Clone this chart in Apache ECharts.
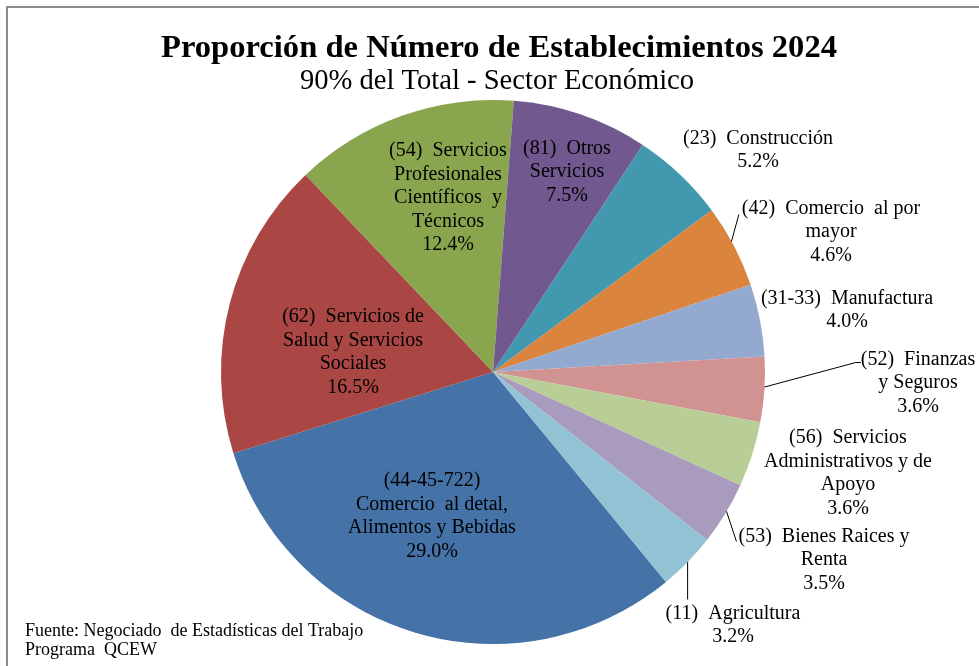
<!DOCTYPE html>
<html><head><meta charset="utf-8">
<script src="https://cdn.jsdelivr.net/npm/echarts@6/dist/echarts.min.js"></script>
<style>html,body{margin:0;padding:0;background:#fff}#c{width:979px;height:666px}</style>
</head><body><div id="c"></div>
<script>
// Data (Excel series order, starting with Comercio al detal)
const categories = [
  '(44-45-722)\nComercio  al detal,\nAlimentos y Bebidas',
  '(62)  Servicios de\nSalud y Servicios\nSociales',
  '(54)  Servicios\nProfesionales\nCientíficos  y\nTécnicos',
  '(81)  Otros\nServicios',
  '(23)  Construcción',
  '(42)  Comercio  al por\nmayor',
  '(31-33)  Manufactura',
  '(52)  Finanzas\ny Seguros',
  '(56)  Servicios\nAdministrativos y de\nApoyo',
  '(53)  Bienes Raices y\nRenta',
  '(11)  Agricultura'
];
const values = [29.0, 16.5, 12.4, 7.5, 5.2, 4.6, 4.0, 3.6, 3.6, 3.5, 3.2];
const titleText = 'Proporción de Número de Establecimientos 2024';
const subtitleText = '90% del Total - Sector Económico';
const sourceText = 'Fuente: Negociado  de Estadísticas del Trabajo\nPrograma  QCEW';

// Styles / layout (kept apart from data)
const colors = ['#4572A7','#AA4643','#89A54E','#71588F','#4198AF','#DB843D','#93A9CF','#D19392','#B9CD96','#A99BBD','#92C3D4'];
const leaderMode = [null,null,null,null,null,'slant',null,'elbow',null,'slant2','vertical'];
const labelPos = [[432,516],[353,352],[448,198],[567,172],[758,150],[831,232],[847,310],[918,383],[848,473],[824,560],[733,625]];
const LH = 23.5;

const chart = echarts.init(document.getElementById('c'), null, {renderer:'canvas'});
const serif = 'Liberation Serif, Times New Roman, serif';
chart.setOption({
  animation: false,
  backgroundColor: '#fff',
  title: [
    {text: titleText, left: 494, top: 27, textAlign: 'center',
     textStyle: {fontFamily: serif, fontSize: 32.6, fontWeight: 'bold', color: '#000'}},
    {text: subtitleText, left: 492, top: 62, textAlign: 'center',
     textStyle: {fontFamily: serif, fontSize: 28.6, fontWeight: 'normal', color: '#000'}}
  ],
  graphic: [
    {type: 'rect', shape: {x: 7, y: 7, width: 1000, height: 700}, style: {fill: 'none', stroke: '#8c8c8c', lineWidth: 2}, silent: true},
    {type: 'text', left: 25, top: 622, style: {text: sourceText, font: '18px ' + serif, fill: '#000', lineHeight: 19}}
  ],
  series: [{
    type: 'pie',
    center: [493, 372],
    radius: 272,
    startAngle: -50.5,
    clockwise: true,
    avoidLabelOverlap: false,
    color: colors,
    itemStyle: {borderWidth: 0},
    label: {
      show: true, position: 'outside',
      fontFamily: serif, fontSize: 20, color: '#000', lineHeight: LH, align: 'center',
      formatter: p => p.name + '\n' + p.value.toFixed(1) + '%'
    },
    labelLine: {show: true, length: 10, length2: 10, lineStyle: {color: '#000', width: 1}},
    labelLayout: p => {
      const i = p.dataIndex;
      const q = labelPos[i];
      const out = {x: q[0], y: q[1], align: 'center', verticalAlign: 'middle'};
      const mode = leaderMode[i];
      if (mode && p.labelLinePoints && p.labelLinePoints.length) {
        const s = p.labelLinePoints[0];
        const w = p.labelRect.width, h = p.labelRect.height;
        const left = q[0] - w / 2, top = q[1] - h / 2, fc = top + LH / 2;
        if (mode === 'slant') out.labelLinePoints = [[s[0] - 3, s[1] - 3], [left - 3, fc + 6], [left - 3, fc + 6]];
        else if (mode === 'elbow') out.labelLinePoints = [[s[0] - 2, s[1] - 2], [left - 5, fc + 3], [left, fc + 3]];
        else if (mode === 'slant2') out.labelLinePoints = [[s[0], s[1] - 6], [left - 2, fc + 5], [left - 2, fc + 5]];
        else if (mode === 'vertical') out.labelLinePoints = [[s[0], s[1] - 4], [s[0], top - 2], [s[0], top - 2]];
      }
      return out;
    },
    data: values.map((v, i) => ({value: v, name: categories[i], labelLine: {show: !!leaderMode[i]}}))
  }]
});
</script></body></html>
